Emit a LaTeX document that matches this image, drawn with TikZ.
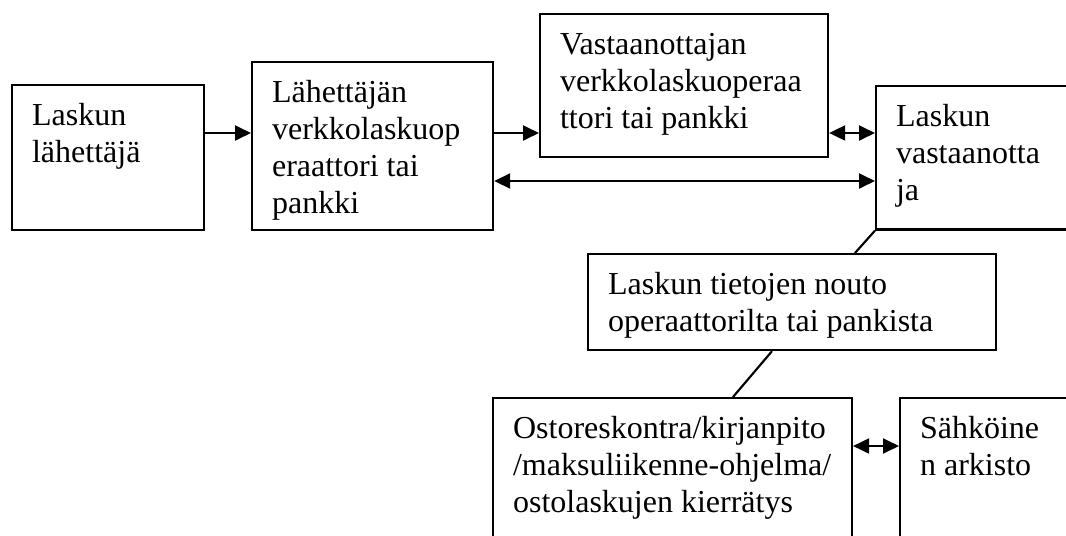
\documentclass[tikz,border=0pt]{standalone}
\usepackage{fontspec}
\setmainfont{Liberation Serif}
\usetikzlibrary{arrows.meta,calc}

\newcommand{\boxtxt}[3]{\parbox[t][#2][t]{#1}{\raggedright\rule{0pt}{15.2pt}#3}}

\begin{document}
\begin{tikzpicture}[x=0.375pt, y=-0.375pt, line width=0.8pt,
  font={\fontsize{12}{13.8}\selectfont},
  box/.style={draw, anchor=north west, inner xsep=7.5pt, inner ysep=0pt},
  arr/.style={-{Triangle[length=6pt,width=5.6pt]}},
  darr/.style={{Triangle[length=6pt,width=5.6pt]}-{Triangle[length=6pt,width=5.6pt]}}]

\clip (0,0) rectangle (1066,536);

% Boxes
\node[box] (A) at (11,84)  {\boxtxt{57pt}{54.4pt}{Laskun\\lähettäjä}};
\node[box] (B) at (251,61) {\boxtxt{75.4pt}{63pt}{Lähettäjän\\verkkolaskuop\\eraattori tai\\pankki}};
\node[box] (C) at (539,13) {\boxtxt{93pt}{53.6pt}{Vastaanottajan\\verkkolaskuoperaa\\ttori tai pankki}};
\node[box] (D) at (875,85) {\boxtxt{63.75pt}{53.8pt}{Laskun\\vastaanotta\\ja}};
\node[box] (E) at (587,253) {\boxtxt{138pt}{36pt}{Laskun tietojen nouto\\operaattorilta tai pankista}};
\node[box] (F) at (492,397) {\boxtxt{119.6pt}{64.9pt}{Ostoreskontra/kirjanpito\\/maksuliikenne-ohjelma/\\ostolaskujen kierrätys}};
\node[box] (G) at (899,397) {\boxtxt{54.75pt}{64.9pt}{Sähköine\\n arkisto}};

% Rows of the arrows
\coordinate (r1) at (0,133);
\coordinate (r2) at (0,181);
\coordinate (r3) at (0,446);

% Arrows
\draw[arr] (A.east |- r1) -- (B.west |- r1);
\draw[arr] (B.east |- r1) -- (C.west |- r1);
\draw[darr] (C.east |- r1) -- (D.west |- r1);
\draw[darr] (B.east |- r2) -- (D.west |- r2);
\draw[darr] (F.east |- r3) -- (G.west |- r3);

% Links
\draw (D.south west) -- ($(E.north west)+(268,0)$);
\draw ($(E.south west)+(185,0)$) -- ($(F.north west)+(241,0)$);

\end{tikzpicture}
\end{document}
